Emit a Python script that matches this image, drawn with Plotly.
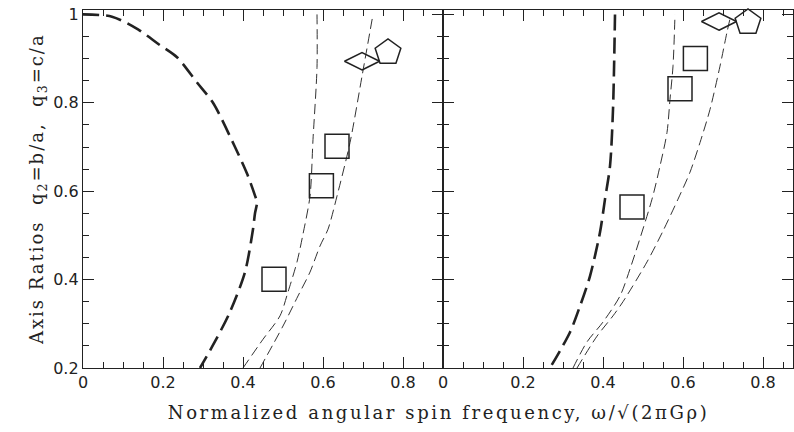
"""Axis ratios vs normalized spin frequency, two panels."""
import plotly.graph_objects as go

# ---- left panel data ----
left_thick_x = [0.0, 0.0725, 0.1375, 0.19, 0.235, 0.285, 0.325, 0.38, 0.41, 0.43, 0.435,
                0.43, 0.425, 0.405, 0.3675, 0.33, 0.2925]
left_thick_y = [1.0, 0.995, 0.966, 0.932, 0.903, 0.846, 0.80, 0.70, 0.64, 0.59, 0.575,
                0.55, 0.514, 0.417, 0.327, 0.26, 0.2]

left_a_x = [0.40, 0.45, 0.4925, 0.5125, 0.535, 0.55, 0.5675, 0.575, 0.585, 0.585]
left_a_y = [0.2, 0.265, 0.318, 0.372, 0.44, 0.503, 0.589, 0.717, 0.88, 1.0]

left_b_x = [0.4425, 0.50, 0.5375, 0.5675, 0.5925, 0.6125, 0.635, 0.6675, 0.6975, 0.725]
left_b_y = [0.2, 0.295, 0.363, 0.417, 0.476, 0.514, 0.589, 0.71, 0.86, 1.0]

left_sq_x = [0.4775, 0.596, 0.635]
left_sq_y = [0.401, 0.6125, 0.702]
left_dia = (0.6975, 0.894)
left_pent = (0.7625, 0.914)

# ---- right panel data ----
right_thick_x = [0.43, 0.425, 0.4175, 0.405, 0.3925, 0.3675, 0.3425, 0.3175, 0.2675]
right_thick_y = [1.0, 0.785, 0.657, 0.582, 0.507, 0.408, 0.34, 0.281, 0.2]

right_c_x = [0.325, 0.36, 0.40, 0.4425, 0.4675, 0.5225, 0.5425, 0.56, 0.5675, 0.575, 0.58]
right_c_y = [0.2, 0.259, 0.304, 0.363, 0.424, 0.582, 0.657, 0.733, 0.808, 0.883, 1.0]

right_d_x = [0.335, 0.385, 0.425, 0.45, 0.51, 0.55, 0.5875, 0.6175, 0.6425, 0.6675, 0.6925, 0.71, 0.72]
right_d_y = [0.2, 0.272, 0.318, 0.35, 0.44, 0.51, 0.582, 0.643, 0.71, 0.785, 0.883, 0.96, 1.0]

right_sq_x = [0.4725, 0.5925, 0.631]
right_sq_y = [0.564, 0.832, 0.90]
right_dia = (0.69, 0.984)
right_pent = (0.7625, 0.982)

INK = "#222222"
thick = dict(color=INK, width=2.6, dash="16px,7px", shape="spline", smoothing=0.8)
thin = dict(color="#333333", width=1, dash="10px,5px", shape="spline", smoothing=0.8)

fig = go.Figure()


def add_panel(xa, ya, tx, ty, ax_, ay_, bx, by, sqx, sqy, dia, pent):
    for x, y, ln in [(tx, ty, thick), (ax_, ay_, thin), (bx, by, thin)]:
        fig.add_trace(go.Scatter(x=x, y=y, mode="lines", line=ln, xaxis=xa, yaxis=ya,
                                 showlegend=False, hoverinfo="skip"))
    fig.add_trace(go.Scatter(x=sqx, y=sqy, mode="markers", xaxis=xa, yaxis=ya,
                             marker=dict(symbol="square-open", size=24, color=INK,
                                         line=dict(width=1.5, color=INK)),
                             showlegend=False, cliponaxis=False))
    fig.add_trace(go.Scatter(x=[dia[0]], y=[dia[1]], mode="markers", xaxis=xa, yaxis=ya,
                             marker=dict(symbol="diamond-wide-open", size=25, color=INK,
                                         line=dict(width=1.5, color=INK)),
                             showlegend=False, cliponaxis=False))
    fig.add_trace(go.Scatter(x=[pent[0]], y=[pent[1]], mode="markers", xaxis=xa, yaxis=ya,
                             marker=dict(symbol="pentagon-open", size=27, color=INK,
                                         line=dict(width=1.5, color=INK)),
                             showlegend=False, cliponaxis=False))


add_panel("x", "y", left_thick_x, left_thick_y, left_a_x, left_a_y, left_b_x, left_b_y,
          left_sq_x, left_sq_y, left_dia, left_pent)
add_panel("x2", "y2", right_thick_x, right_thick_y, right_c_x, right_c_y, right_d_x, right_d_y,
          right_sq_x, right_sq_y, right_dia, right_pent)

tick_font = dict(family="DejaVu Sans, sans-serif", size=16, color=INK)
common = dict(showline=True, linewidth=1.4, linecolor=INK, mirror="allticks",
              ticks="inside", ticklen=11, tickwidth=1.2, tickcolor=INK,
              showgrid=False, zeroline=False, tickfont=tick_font, automargin=False,
              tickmode="linear", dtick=0.2,
              minor=dict(dtick=0.05, ticks="inside", ticklen=6, tickwidth=1.2,
                         tickcolor=INK, showgrid=False))

split = 360 / 710
fig.update_layout(
    width=794, height=432,
    margin=dict(l=83, r=1, t=10, b=64),
    plot_bgcolor="white", paper_bgcolor="white",
    xaxis=dict(domain=[0, split], range=[0, 0.9], tick0=0, **common),
    xaxis2=dict(domain=[split, 1], range=[0, 0.875], tick0=0, anchor="y2", **common),
    yaxis=dict(range=[0.2, 1.01], tick0=0.2, **common),
    yaxis2=dict(range=[0.2, 1.01], tick0=0.2, anchor="x2", showticklabels=False, **common),
)

title_font = dict(family="DejaVu Serif, serif", size=18, color=INK)
fig.add_annotation(text="Normalized angular spin frequency, ω/√(2πGρ)",
                   xref="paper", yref="paper", x=0.5, y=-0.123, yanchor="middle",
                   showarrow=False, font=title_font, name="xtitle")
fig.add_annotation(text="Axis Ratios  q<sub>2</sub>=b/a,  q<sub>3</sub>=c/a",
                   xref="paper", yref="paper", x=-0.083, y=0.5, textangle=-90,
                   showarrow=False, font=title_font, name="ytitle")

# page body has an 8px default margin; drop it, and spread the serif titles a little
post = """
document.body.style.margin = '0';
var spacing = ['2.6px', '2px'];
document.querySelectorAll('.annotation-text').forEach(function (t, i) {
    t.style.letterSpacing = spacing[i] || '2px';
});
"""
fig.write_html("out.html", post_script=post, config={"displayModeBar": False})
